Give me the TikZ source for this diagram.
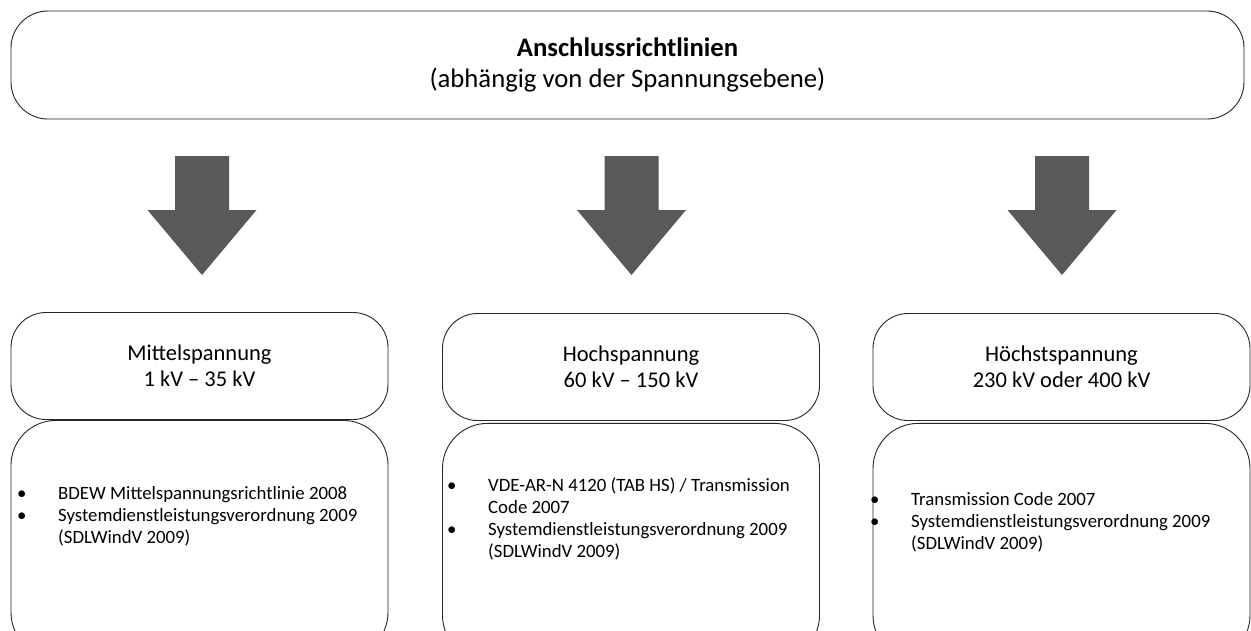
\documentclass[tikz,border=0pt]{standalone}
\usepackage{fontspec}
\setmainfont{Carlito}
\usepackage{xcolor}
\usetikzlibrary{positioning}

\definecolor{arrowgray}{HTML}{595959}
\newcommand{\itemdot}{\makebox[41pt][l]{\textbullet}}

\begin{document}
\begin{tikzpicture}[
    x=1pt, y=-1pt,
    title/.style={rectangle, draw=black!85, line width=0.9pt, rounded corners=37pt, minimum width=1233pt, minimum height=108pt, align=center, font=\fontsize{26.7}{31}\selectfont},
    level/.style={rectangle, draw=black!85, line width=0.9pt, rounded corners=35pt, minimum width=377pt, minimum height=107pt, align=center, font=\fontsize{22.5}{25.6}\selectfont},
    rules/.style={rectangle, draw=black!85, line width=0.9pt, rounded corners=45pt, minimum width=377pt, minimum height=237pt},
    ruletext/.style={inner sep=0pt, anchor=base west, align=left, font=\fontsize{18.8}{21.8}\selectfont},
    bigarrow/.style={fill=arrowgray}
]
    \clip (0,0) rectangle (1251,630);

    % Top box
    \node[title] (top) at (627.5,65) {\textbf{Anschlussrichtlinien}\\(abhängig von der Spannungsebene)};

    % Block arrows
    \fill[bigarrow] (175,156) -- ++(54,0) -- ++(0,54) -- ++(27.5,0) -- ++(-54.5,65) -- ++(-54.5,-65) -- ++(27.5,0) -- cycle;
    \fill[bigarrow] (604.5,156) -- ++(54,0) -- ++(0,54) -- ++(27.5,0) -- ++(-54.5,65) -- ++(-54.5,-65) -- ++(27.5,0) -- cycle;
    \fill[bigarrow] (1035,156) -- ++(54,0) -- ++(0,54) -- ++(27.5,0) -- ++(-54.5,65) -- ++(-54.5,-65) -- ++(27.5,0) -- cycle;

    % Voltage levels
    \node[level] (mittel) at (199.5,366) {Mittelspannung\\1 kV -- 35 kV};
    \node[level] (hoch) at (631,367) {Hochspannung\\60 kV -- 150 kV};
    \node[level] (hoechst) at (1061.5,367) {Höchstspannung\\230 kV oder 400 kV};

    % Guidelines
    \node[rules, below=0pt of mittel] (mittelrules) {};
    \node[rules, below=2pt of hoch] (hochrules) {};
    \node[rules, below=2pt of hoechst] (hoechstrules) {};

    % (base = last line)
    \node[ruletext] (mitteltext) at (17,543) {\itemdot BDEW Mittelspannungsrichtlinie 2008\\
        \itemdot Systemdienstleistungsverordnung 2009\\
        \hspace*{41pt}(SDLWindV 2009)};
    \node[ruletext] (hochtext) at (447,557) {\itemdot VDE-AR-N 4120 (TAB HS) / Transmission\\
        \hspace*{41pt}Code 2007\\
        \itemdot Systemdienstleistungsverordnung 2009\\
        \hspace*{41pt}(SDLWindV 2009)};
    \node[ruletext] (hoechsttext) at (870,549) {\itemdot Transmission Code 2007\\
        \itemdot Systemdienstleistungsverordnung 2009\\
        \hspace*{41pt}(SDLWindV 2009)};
\end{tikzpicture}
\end{document}
